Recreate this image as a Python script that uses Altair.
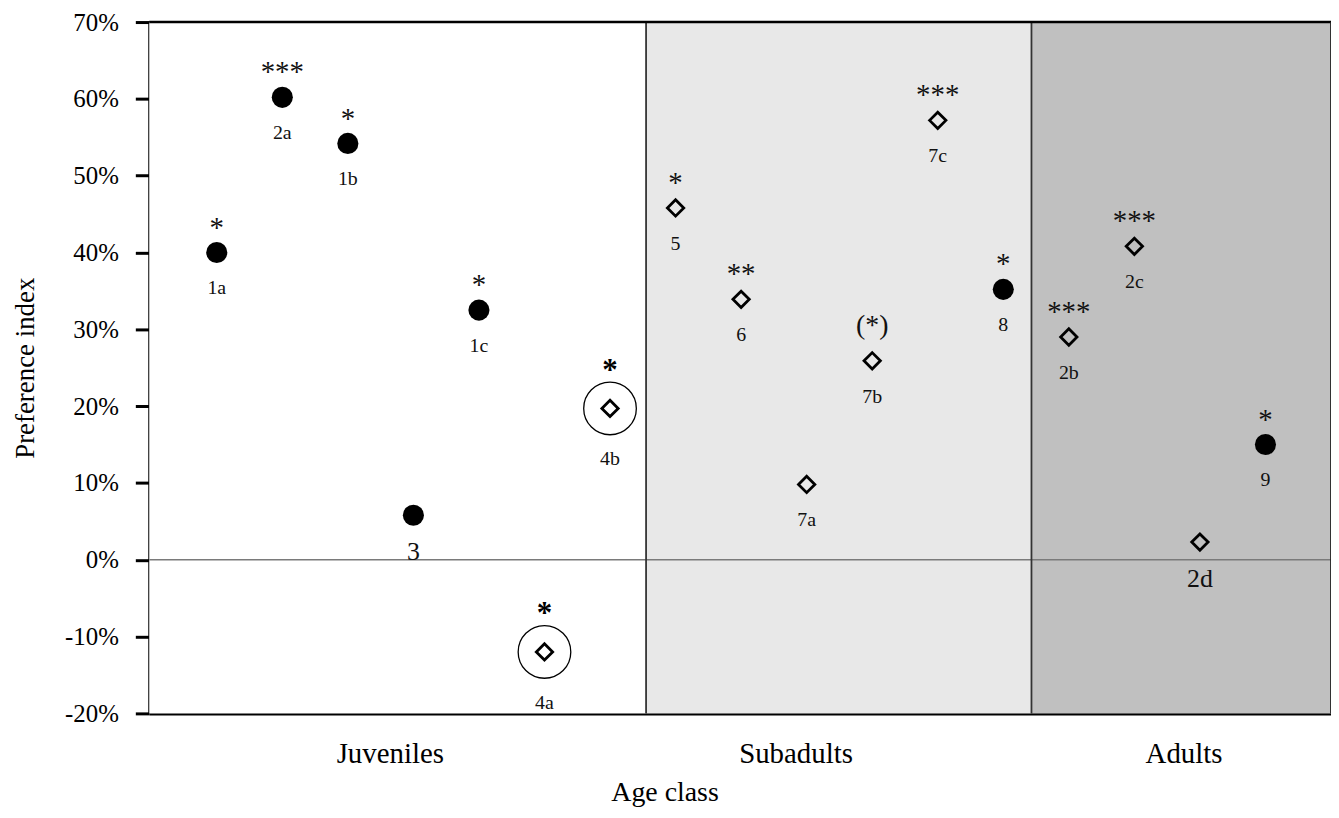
import altair as alt
import pandas as pd
import json

# ---- data ----
names = ["1a", "2a", "1b", "3", "1c", "4a", "4b", "5", "6", "7a", "7b", "7c", "8", "2b", "2c", "2d", "9"]
order = list(range(1, 18))
pref = [40.0, 60.2, 54.2, 5.8, 32.5, -12.0, 19.7, 45.8, 33.9, 9.8, 25.9, 57.2, 35.2, 29.0, 40.8, 2.3, 15.0]
kind = ["filled", "filled", "filled", "filled", "filled", "open", "open", "open", "open", "open",
        "open", "open", "filled", "open", "open", "open", "filled"]
stars = ["*", "***", "*", "", "*", "*", "*", "*", "**", "", "(*)", "***", "*", "***", "***", "", "*"]
ringed = ["4a", "4b"]
big_labels = ["3", "2d"]

classes = ["Juveniles", "Subadults", "Adults"]
class_start = [-0.03, 7.55, 13.43]
class_end = [7.55, 13.43, 18]
class_label_pos = [3.64, 9.83, 15.75]
class_fill = ["#ffffff", "#e8e8e8", "#c0c0c0"]

y_ticks = [-20, -10, 0, 10, 20, 30, 40, 50, 60, 70]
X_MIN, X_MAX = -0.03, 18
Y_MIN, Y_MAX = -20, 70

FONT = "Liberation Serif"

df = pd.DataFrame({"name": names, "pos": order, "pref": pref, "kind": kind, "stars": stars})
regions = pd.DataFrame({"cls": classes, "x0": class_start, "x1": class_end, "fill": class_fill})

xscale = alt.Scale(domain=[X_MIN, X_MAX], nice=False, zero=False)
yscale = alt.Scale(domain=[Y_MIN, Y_MAX], nice=False, zero=False)

label_expr = " : ".join(f"datum.value == {p} ? '{c}'" for p, c in zip(class_label_pos, classes)) + " : ''"

x_axis = alt.Axis(
    values=class_label_pos, labelExpr=label_expr, ticks=False, grid=False,
    domainWidth=3, domainColor="black", labelFontSize=29, labelPadding=26,
    labelColor="black", title="Age class", titleFontSize=28, titleFontWeight="normal",
    titlePadding=11, titleColor="black", titleX=518, labelFlush=False,
)
y_axis = alt.Axis(
    values=y_ticks, labelExpr="datum.value + '%'", grid=False, domainWidth=3,
    domainColor="black", tickWidth=3, tickSize=14, tickColor="black",
    labelFontSize=25, labelPadding=17, labelColor="black",
    title="Preference index", titleFontSize=27, titleFontWeight="normal",
    titlePadding=25, titleColor="black",
)

bg = alt.Chart(regions).mark_rect().encode(
    x=alt.X("x0:Q", scale=xscale, axis=x_axis),
    x2="x1:Q",
    y=alt.datum(Y_MIN, scale=yscale, axis=y_axis),
    y2=alt.datum(Y_MAX),
    fill=alt.Fill("fill:N", scale=None),
)

zero_line = alt.Chart(pd.DataFrame({"v": [0]})).mark_rule(color="#7a7a7a", strokeWidth=1.6).encode(
    y=alt.Y("v:Q", scale=yscale)
)

sep_lines = alt.Chart(pd.DataFrame({"x": class_start[1:]})).mark_rule(color="#333333", strokeWidth=1.8).encode(
    x=alt.X("x:Q", scale=xscale)
)

top_border = alt.Chart(pd.DataFrame({"v": [Y_MAX]})).mark_rule(color="black", strokeWidth=2.5).encode(
    y=alt.Y("v:Q", scale=yscale)
)
right_border = alt.Chart(pd.DataFrame({"x": [X_MAX]})).mark_rule(color="#222222", strokeWidth=1.8).encode(
    x=alt.X("x:Q", scale=xscale)
)

base = alt.Chart(df).encode(
    x=alt.X("pos:Q", scale=xscale),
    y=alt.Y("pref:Q", scale=yscale),
)

is_ring = f"indexof({json.dumps(ringed)}, datum.name) >= 0"
is_big = f"indexof({json.dumps(big_labels)}, datum.name) >= 0"

rings = base.transform_filter(is_ring).mark_point(
    shape="circle", size=2800, filled=False, color="black", strokeWidth=1.3, opacity=1
)
filled_pts = base.transform_filter("datum.kind == 'filled'").mark_point(
    shape="circle", size=450, filled=True, color="black", opacity=1
)
open_pts = base.transform_filter("datum.kind == 'open'").mark_point(
    shape="diamond", size=270, filled=False, color="black", strokeWidth=2.8, opacity=1
)

star_normal = base.transform_filter(
    f"datum.stars != '(*)' && !({is_ring})"
).mark_text(font=FONT, fontSize=29, baseline="alphabetic", dy=-16, color="#111111").encode(text="stars:N")

star_paren = base.transform_filter("datum.stars == '(*)'").mark_text(
    font=FONT, fontSize=28, baseline="alphabetic", dy=-27, color="#111111"
).encode(text="stars:N")

star_ring = base.transform_filter(is_ring).mark_text(
    font=FONT, fontSize=31, fontWeight="bold", baseline="alphabetic", dy=-29, color="black"
).encode(text="stars:N")

lab_normal = base.transform_filter(f"!({is_ring}) && !({is_big})").mark_text(
    font=FONT, fontSize=20, baseline="middle", dy=36, color="#111111"
).encode(text="name:N")

lab_big = base.transform_filter(is_big).mark_text(
    font=FONT, fontSize=26, baseline="middle", dy=37, color="#111111"
).encode(text="name:N")

lab_ring = base.transform_filter(is_ring).mark_text(
    font=FONT, fontSize=20, baseline="middle", dy=51, color="#111111"
).encode(text="name:N")

chart = alt.layer(
    bg, zero_line, sep_lines, top_border, right_border,
    rings, filled_pts, open_pts,
    star_normal, star_paren, star_ring, lab_normal, lab_big, lab_ring,
).properties(
    width=1188, height=695,
    autosize=alt.AutoSizeParams(type="none"),
    padding={"left": 142, "top": 12, "right": 0, "bottom": 95},
).configure_view(stroke=None).configure(font=FONT).configure_axis(
    labelFont=FONT, titleFont=FONT
)

chart.save("out.html", embed_options={"renderer": "svg", "actions": False})
